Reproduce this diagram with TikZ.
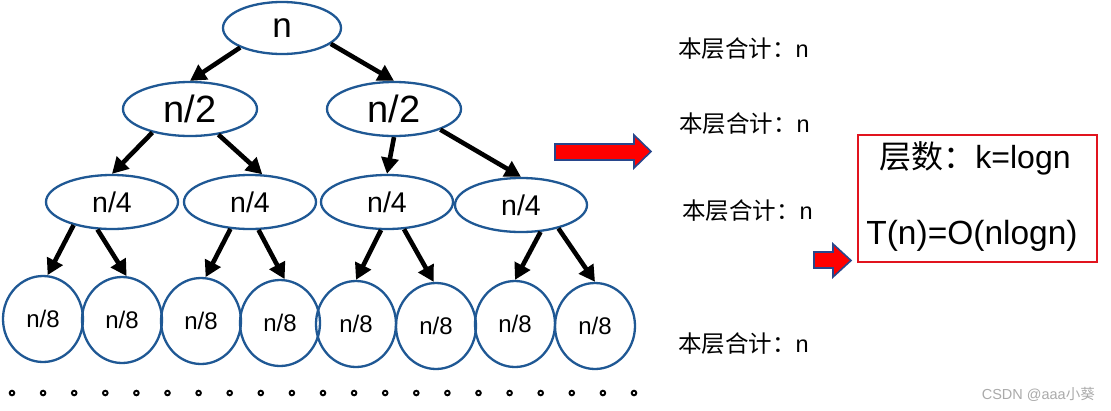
\documentclass[tikz,border=0pt]{standalone}
\usepackage{fontspec}
\setmainfont{Liberation Sans}
\newfontfamily\cjk{Noto Sans CJK SC}
\usetikzlibrary{shapes.geometric,arrows.meta}
\definecolor{ellblue}{RGB}{31,88,148}
\definecolor{arrblue}{RGB}{40,70,140}
\definecolor{boxred}{RGB}{225,20,30}
\definecolor{wmgrey}{RGB}{170,170,170}
\tikzset{
  ell/.style={ellipse,draw=ellblue,line width=2.3pt,inner sep=0pt,text=black},
  lvla/.style={ell,minimum width=118pt,minimum height=52pt,font=\fontsize{35}{40}\selectfont},
  lvlb/.style={ell,minimum width=134pt,minimum height=54pt,font=\fontsize{38}{42}\selectfont},
  lvlc/.style={ell,minimum width=132pt,minimum height=54pt,font=\fontsize{28.5}{32}\selectfont},
  lvld/.style={ell,minimum width=80pt,minimum height=86pt,font=\fontsize{24}{28}\selectfont},
  arr/.style={line width=4.6pt,draw=black,-{Triangle[length=16pt,width=17pt]}},
  sumtxt/.style={font=\fontsize{23.5}{27}\selectfont,anchor=west,inner sep=0pt},
  dotmark/.style={draw=black,line width=1.9pt},
  redarrow/.style={fill=red,draw=arrblue,line width=1.6pt,line join=miter},
}
\begin{document}
\begin{tikzpicture}[x=1pt,y=-1pt]
\useasboundingbox (0,0) rectangle (1111,410);
\fill[white] (0,0) rectangle (1111,410);

% tree nodes
\node[lvla] (root) at (282,28) {n};
\node[lvlb] (l2a) at (190,109) {n/2};
\node[lvlb] (l2b) at (394,109) {n/2};
\node[lvlc] (l4a) at (112,202) {n/4};
\node[lvlc] (l4b) at (250,202) {n/4};
\node[lvlc] (l4c) at (387,202) {n/4};
\node[lvlc] (l4d) at (521,205) {n/4};
\node[lvld] (l8a) at (43,319) {n/8};
\node[lvld] (l8b) at (122,320) {n/8};
\node[lvld] (l8c) at (201,321) {n/8};
\node[lvld] (l8d) at (280,323) {n/8};
\node[lvld] (l8e) at (356,324) {n/8};
\node[lvld] (l8f) at (436,326) {n/8};
\node[lvld] (l8g) at (515,324) {n/8};
\node[lvld] (l8h) at (595,326) {n/8};

% connectors
\draw[arr] (root.205) -- (l2a.north);
\draw[arr] (root.342) -- (l2b.north);
\draw[arr] (l2a.212) -- (l4a.north);
\draw[arr] (l2a.318) -- (l4b.66);
\draw[arr] (l2b.south) -- (l4c.north);
\draw[arr] (l2b.336) -- (l4d.north);
\draw[arr] (l4a.211) -- (l8a.84);
\draw[arr] (l4a.242) -- (l8b.84);
\draw[arr] (l4b.234) -- (l8c.84);
\draw[arr] (l4b.287) -- (l8d.84);
\draw[arr] (l4c.258) -- (l8e.north);
\draw[arr] (l4c.302) -- (l8f.93);
\draw[arr] (l4d.306) -- (l8g.north);
\draw[arr] (l4d.328) -- (l8h.north);

% dots
\foreach \i in {0,...,20} {
  \draw[dotmark] (12+\i*31.1,393) circle (2.3pt);
}

% per-level sums
\node[sumtxt] (s1) at (678,49) {{\cjk 本层合计：}n};
\node[sumtxt] (s2) at (679,124) {{\cjk 本层合计：}n};
\node[sumtxt] (s3) at (682,211) {{\cjk 本层合计：}n};
\node[sumtxt] (s4) at (678,344) {{\cjk 本层合计：}n};

% red arrows
\draw[redarrow] (555,144) -- (634,144) -- (634,135) -- (651,151.5) -- (634,168) -- (634,160) -- (555,160) -- cycle;
\draw[redarrow] (814,252) -- (833,252) -- (833,244) -- (851,260.5) -- (833,277) -- (833,268) -- (814,268) -- cycle;

% result box
\node[draw=boxred,line width=2.4pt,minimum width=239pt,minimum height=127pt,inner sep=0pt] (box) at (977.5,198.5) {};
\node[font=\fontsize{32}{37}\selectfont,inner sep=0pt] (k) at (975,158) {{\cjk 层数：}k=logn};
\node[font=\fontsize{33.5}{38}\selectfont,inner sep=0pt] (t) at (972,236) {T(n)=O(nlogn)};

% watermark
\node[font=\fontsize{14.5}{16}\selectfont,text=wmgrey,anchor=east,inner sep=0pt] (wm) at (1095,394) {CSDN @aaa{\cjk 小葵}};
\end{tikzpicture}
\end{document}
